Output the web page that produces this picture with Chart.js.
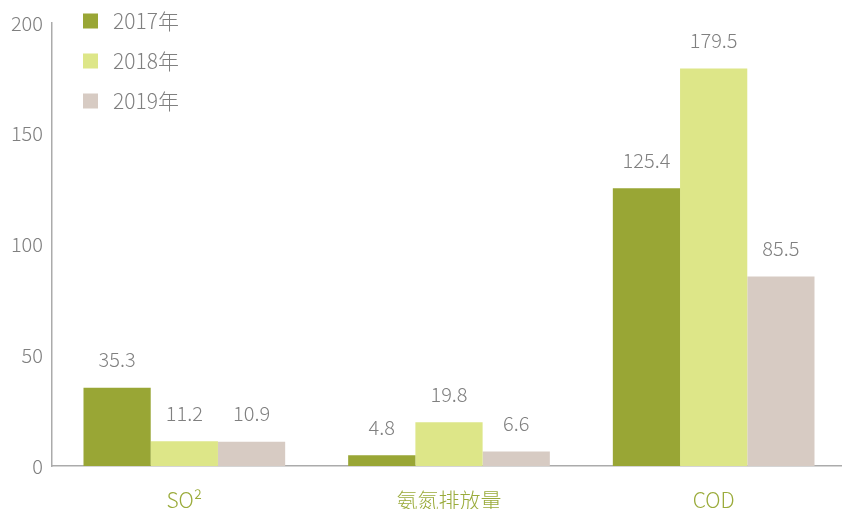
<!DOCTYPE html>
<html>
<head>
<meta charset="utf-8">
<script src="https://cdn.jsdelivr.net/npm/chart.js@4/dist/chart.umd.min.js"></script>
<style>
  html, body { margin: 0; padding: 0; background: #fff; overflow: hidden; }
  #wrap { width: 846px; height: 509px; }
</style>
</head>
<body>
<div id="wrap"><canvas id="chart"></canvas></div>
<script>
const categories = ["SO²", "氨氮排放量", "COD"];
const years = ["2017年", "2018年", "2019年"];
const values2017 = [35.3, 4.8, 125.4];
const values2018 = [11.2, 19.8, 179.5];
const values2019 = [10.9, 6.6, 85.5];
const yTicks = [0, 50, 100, 150, 200];

const colors = ["#99a635", "#dde688", "#d7cbc3"];
const FONT = "'Noto Sans CJK SC', 'Noto Sans', sans-serif";

// value labels above each bar
const valueLabels = {
    id: "valueLabels",
    afterDatasetsDraw(chart) {
        const ctx = chart.ctx;
        ctx.save();
        ctx.font = "300 20px " + FONT;
        ctx.fillStyle = "#808080";
        ctx.textAlign = "center";
        ctx.textBaseline = "middle";
        chart.data.datasets.forEach((ds, i) => {
            chart.getDatasetMeta(i).data.forEach((bar, j) => {
                ctx.fillText(ds.data[j].toFixed(1), bar.x, bar.y - 28);
            });
        });
        ctx.restore();
    }
};

// vertical legend in the top-left corner
const sideLegend = {
    id: "sideLegend",
    afterDraw(chart) {
        const ctx = chart.ctx;
        ctx.save();
        ctx.font = "300 21px " + FONT;
        ctx.textBaseline = "middle";
        chart.data.datasets.forEach((ds, i) => {
            const y = 21 + i * 40;
            ctx.fillStyle = ds.backgroundColor;
            ctx.fillRect(83, y - 7.5, 15, 15);
            ctx.fillStyle = "#808080";
            ctx.fillText(ds.label, 113, y);
        });
        ctx.restore();
    }
};

new Chart(document.querySelector("#chart"), {
    type: "bar",
    data: {
        labels: categories,
        datasets: [
            { label: years[0], data: values2017, backgroundColor: colors[0] },
            { label: years[1], data: values2018, backgroundColor: colors[1] },
            { label: years[2], data: values2019, backgroundColor: colors[2] }
        ]
    },
    options: {
        responsive: true,
        maintainAspectRatio: false,
        animation: false,
        layout: { padding: { top: 23, right: 0, left: 0, bottom: 0 } },
        datasets: { bar: { categoryPercentage: 0.762, barPercentage: 1.0 } },
        plugins: {
            legend: { display: false },
            tooltip: { enabled: false }
        },
        scales: {
            x: {
                grid: { display: false, drawTicks: false },
                border: { color: "#ababab", width: 1.5 },
                ticks: {
                    color: "#9aab3a",
                    font: { family: FONT, size: 21, weight: 300 },
                    padding: 21
                },
                afterFit(scale) { scale.height = 43; }
            },
            y: {
                min: 0,
                max: 200,
                afterBuildTicks(scale) { scale.ticks = yTicks.map(v => ({ value: v })); },
                grid: { display: false, drawTicks: false },
                border: { color: "#ababab", width: 1.5 },
                ticks: {
                    color: "#808080",
                    font: { family: FONT, size: 20, weight: 300 },
                    padding: 9
                },
                afterFit(scale) { scale.width = 52; }
            }
        }
    },
    plugins: [valueLabels, sideLegend]
});
</script>
</body>
</html>
